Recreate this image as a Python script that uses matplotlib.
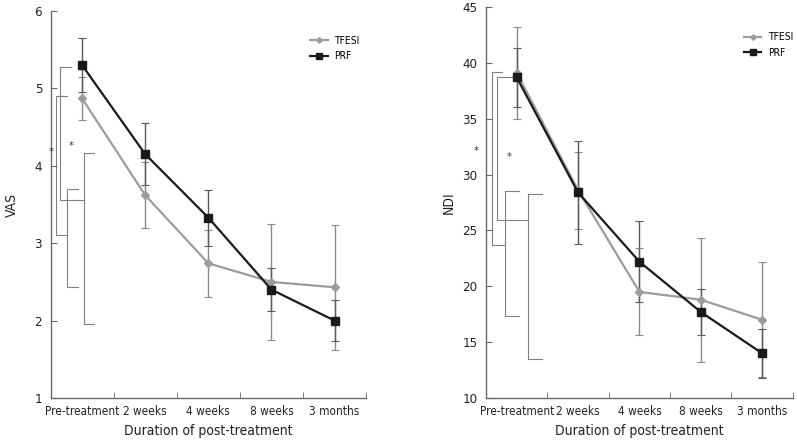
import matplotlib
matplotlib.use('Agg')
import matplotlib.pyplot as plt
import numpy as np

plt.rcParams['font.family'] = ['DejaVu Sans']
plt.rcParams['font.stretch'] = 'condensed'

categories = ['Pre-treatment', '2 weeks', '4 weeks', '8 weeks', '3 months']
series_names = ['TFESI', 'PRF']

vas_tfesi = [4.87, 3.62, 2.74, 2.50, 2.43]
vas_tfesi_err = [0.28, 0.43, 0.43, 0.75, 0.81]
vas_prf = [5.30, 4.15, 3.33, 2.40, 2.00]
vas_prf_err = [0.35, 0.40, 0.36, 0.28, 0.27]

ndi_tfesi = [39.1, 28.6, 19.5, 18.8, 17.0]
ndi_tfesi_err = [4.1, 3.45, 3.9, 5.55, 5.15]
ndi_prf = [38.7, 28.4, 22.2, 17.7, 14.0]
ndi_prf_err = [2.65, 4.6, 3.65, 2.1, 2.2]

# significance brackets: (top, bottom) of each bracket, in data units
vas_brackets = [(5.28, 3.56), (4.16, 1.96), (4.90, 3.11), (3.70, 2.44)]
vas_stars = [4.18, 4.25]
ndi_brackets = [(39.2, 23.7), (28.5, 17.3), (38.7, 25.9), (28.3, 13.5)]
ndi_stars = [32.1, 31.6]

GRAY = '#9c9c9c'
BLACK = '#1a1a1a'
AXC = '#6a6a6a'
BRC = '#808080'


def style_axes(ax, ylim, yticks, ylabel, ylabelpad):
    n = len(categories)
    ax.set_xlim(-0.5, n - 0.5)
    ax.set_ylim(*ylim)
    ax.set_yticks(yticks)
    ax.set_xticks(range(n))
    ax.set_xticklabels(categories)
    ax.set_xticks(np.arange(0.5, n), minor=True)
    ax.tick_params(axis='x', which='major', length=0, labelsize=8.5, pad=5, colors='#222222')
    ax.tick_params(axis='x', which='minor', direction='in', length=4, color=AXC)
    ax.tick_params(axis='y', direction='in', length=4, color=AXC, labelsize=9.5,
                   labelcolor='#222222', pad=6)
    for s in ['top', 'right']:
        ax.spines[s].set_visible(False)
    for s in ['left', 'bottom']:
        ax.spines[s].set_color(AXC)
        ax.spines[s].set_linewidth(1.0)
    ax.set_xlabel('Duration of post-treatment', fontsize=10, color='#222222', labelpad=4)
    ax.set_ylabel(ylabel, fontsize=10, color='#222222', labelpad=ylabelpad)


def bracket(ax, x0, x1, x2, top, bottom):
    ax.plot([x1, x0, x0, x2], [top, top, bottom, bottom], color=BRC, lw=0.8,
            clip_on=False, zorder=1)


def draw(ax, tf, tf_err, prf, prf_err):
    x = np.arange(len(categories))
    ax.errorbar(x, tf, yerr=tf_err, fmt='none', ecolor='#8a8a8a', elinewidth=1.0,
                capsize=3, capthick=0.8, zorder=2)
    ax.errorbar(x, prf, yerr=prf_err, fmt='none', ecolor='#5a5a5a', elinewidth=1.0,
                capsize=3, capthick=0.8, zorder=2)
    ax.plot(x, tf, color=GRAY, lw=1.6, marker='D', ms=4, label=series_names[0], zorder=3)
    ax.plot(x, prf, color=BLACK, lw=1.6, marker='s', ms=5.5, label=series_names[1], zorder=4)


fig = plt.figure(figsize=(7.97, 4.41), dpi=100)
ax1 = fig.add_axes([0.0634, 0.0975, 0.396, 0.8776])
ax2 = fig.add_axes([0.6098, 0.0975, 0.385, 0.8866])

draw(ax1, vas_tfesi, vas_tfesi_err, vas_prf, vas_prf_err)
style_axes(ax1, (1, 6), range(1, 7), 'VAS', 11)
b = vas_brackets
bracket(ax1, -0.348, -0.174, 0.032, b[0][0], b[0][1])
bracket(ax1, 0.032, 0.19, 0.19, b[1][0], b[1][1])
bracket(ax1, -0.41, -0.237, -0.237, b[2][0], b[2][1])
bracket(ax1, -0.237, -0.063, -0.063, b[3][0], b[3][1])
ax1.text(-0.49, vas_stars[0], '*', ha='center', va='center', fontsize=8, color='#333333')
ax1.text(-0.174, vas_stars[1], '*', ha='center', va='center', fontsize=8, color='#333333')

draw(ax2, ndi_tfesi, ndi_tfesi_err, ndi_prf, ndi_prf_err)
style_axes(ax2, (10, 45), range(10, 46, 5), 'NDI', 5)
b = ndi_brackets
bracket(ax2, -0.40, -0.236, -0.187, b[0][0], b[0][1])
bracket(ax2, -0.187, 0.04, 0.04, b[1][0], b[1][1])
bracket(ax2, -0.318, -0.024, 0.187, b[2][0], b[2][1])
bracket(ax2, 0.187, 0.415, 0.415, b[3][0], b[3][1])
ax2.text(-0.66, ndi_stars[0], '*', ha='center', va='center', fontsize=8, color='#333333',
         clip_on=False)
ax2.text(-0.12, ndi_stars[1], '*', ha='center', va='center', fontsize=8, color='#333333')

for ax, xa in ((ax1, 0.822), (ax2, 0.84)):
    ax.legend(loc='upper left', bbox_to_anchor=(xa, 0.935), frameon=False, fontsize=7.5,
              handlelength=1.7, handletextpad=0.6, labelspacing=0.5, borderaxespad=0,
              borderpad=0, markerscale=0.7)

fig.savefig('out.png', dpi=100)
